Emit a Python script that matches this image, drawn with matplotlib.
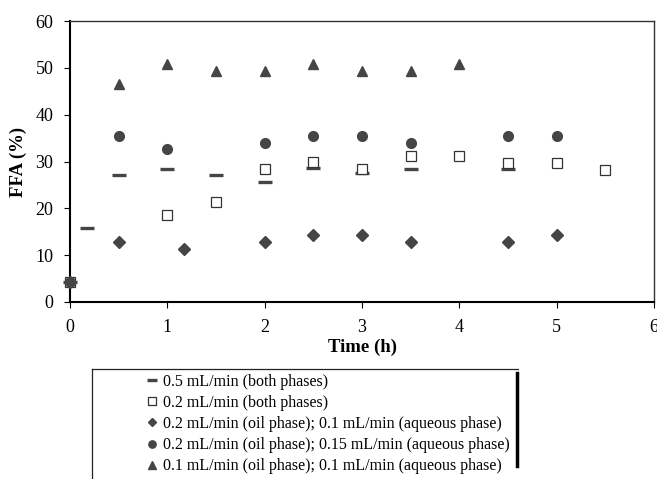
import matplotlib
matplotlib.use("Agg")
import matplotlib.pyplot as plt
from matplotlib.lines import Line2D

plt.rcParams['font.family'] = ['Liberation Serif', 'DejaVu Serif']

# 0.5 mL/min (both phases)
t_a = [0, 0.17, 0.5, 1, 1.5, 2, 2.5, 3, 3.5, 4.5]
ffa_a = [4.3, 15.7, 27.1, 28.5, 27.1, 25.7, 28.7, 27.5, 28.5, 28.3]
# 0.2 mL/min (both phases)
t_b = [0, 1, 1.5, 2, 2.5, 3, 3.5, 4, 4.5, 5, 5.5]
ffa_b = [4.3, 18.6, 21.3, 28.4, 29.8, 28.4, 31.2, 31.2, 29.6, 29.6, 28.2]
# 0.2 mL/min (oil); 0.1 mL/min (aqueous)
t_c = [0, 0.5, 1.17, 2, 2.5, 3, 3.5, 4.5, 5]
ffa_c = [4.3, 12.8, 11.3, 12.8, 14.2, 14.2, 12.8, 12.8, 14.2]
# 0.2 mL/min (oil); 0.15 mL/min (aqueous)
t_d = [0, 0.5, 1, 2, 2.5, 3, 3.5, 4.5, 5]
ffa_d = [4.3, 35.5, 32.7, 34.0, 35.5, 35.5, 34.0, 35.5, 35.5]
# 0.1 mL/min (oil); 0.1 mL/min (aqueous)
t_e = [0.5, 1, 1.5, 2, 2.5, 3, 3.5, 4]
ffa_e = [46.5, 50.8, 49.4, 49.4, 50.8, 49.4, 49.4, 50.8]

labels = ["0.5 mL/min (both phases)",
          "0.2 mL/min (both phases)",
          "0.2 mL/min (oil phase); 0.1 mL/min (aqueous phase)",
          "0.2 mL/min (oil phase); 0.15 mL/min (aqueous phase)",
          "0.1 mL/min (oil phase); 0.1 mL/min (aqueous phase)"]

dark = '#454545'
W, H = 657, 479
fig = plt.figure(figsize=(W / 100, H / 100), dpi=100)
ax = fig.add_axes([70 / W, 1 - 302 / H, 584 / W, 281 / H])

ax.plot(t_a, ffa_a, ls='none', marker='_', ms=9.5, mew=2.4, color=dark, label=labels[0], zorder=3, clip_on=False)
ax.plot(t_b, ffa_b, ls='none', marker='s', ms=7, mfc='white', mec='#333333', mew=0.9, label=labels[1], zorder=4, clip_on=False)
ax.plot(t_c, ffa_c, ls='none', marker='D', ms=6, color=dark, label=labels[2], zorder=5, clip_on=False)
ax.plot(t_d, ffa_d, ls='none', marker='o', ms=7, color=dark, label=labels[3], zorder=5, clip_on=False)
ax.plot(t_e, ffa_e, ls='none', marker='^', ms=7.5, color=dark, label=labels[4], zorder=5, clip_on=False)

ax.set_xlim(0, 6)
ax.set_ylim(0, 60)
ax.set_xticks(range(0, 7))
ax.set_yticks(range(0, 61, 10))
ax.tick_params(direction='out', length=4, width=0.8, labelsize=13, colors='black', pad=8)
for s in ['left', 'bottom']:
    ax.spines[s].set_linewidth(1.5)
for s in ['top', 'right']:
    ax.spines[s].set_linewidth(1.0)
    ax.spines[s].set_color('#333333')

ax.set_xlabel("Time (h)", fontsize=13.5, fontweight='bold', labelpad=2)
ax.set_ylabel("FFA (%)", fontsize=13.5, fontweight='bold', labelpad=6)

leg = fig.legend(loc='upper left', bbox_to_anchor=(141 / W, 1 - 369 / H),
                 frameon=False, fontsize=11.5, handlelength=0.8, handletextpad=0.3,
                 labelspacing=0.32, borderpad=0.3, borderaxespad=0,
                 markerscale=0.75)

# legend frame (bottom cut off by figure edge) and the thick bar at its right
fx = lambda p: p / W
fy = lambda p: 1 - p / H
fig.add_artist(Line2D([fx(92), fx(518)], [fy(369), fy(369)], transform=fig.transFigure, color='#222222', lw=0.9))
fig.add_artist(Line2D([fx(92), fx(92)], [fy(369), fy(480)], transform=fig.transFigure, color='#222222', lw=0.9))
fig.add_artist(Line2D([fx(517), fx(517)], [fy(373), fy(466)], transform=fig.transFigure, color='black', lw=2.5))

fig.savefig("out.png", dpi=100)
